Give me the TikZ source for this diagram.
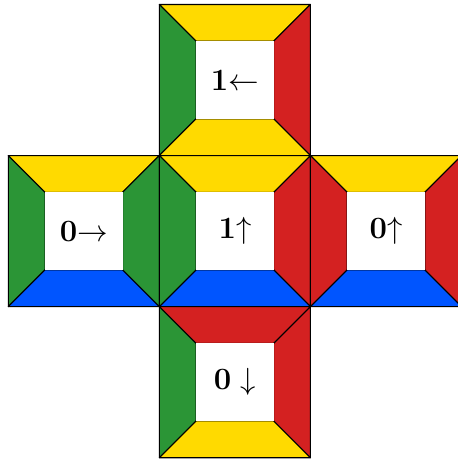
\documentclass[tikz,border=0pt]{standalone}
\usepackage{xcolor}
\usepackage{tikz}
\definecolor{faceyellow}{HTML}{FFDA00}
\definecolor{facegreen}{HTML}{2B9536}
\definecolor{facered}{HTML}{D42121}
\definecolor{faceblue}{HTML}{0055FF}

\begin{document}
\begin{tikzpicture}[
  panel/.style={draw=black, line width=0.6pt, line join=round},
  facelabel/.style={font=\fontsize{17.5}{20}\selectfont, inner sep=0pt}
]
\useasboundingbox (-3.165,-3.085) rectangle (5.928,6.089);
% five faces: shift x / shift y / top / left / right / bottom / name / label
\foreach \x/\y/\t/\l/\r/\b/\n/\lab in {
  0/3/faceyellow/facegreen/facered/faceyellow/fup/{\textbf{1}$\leftarrow$},
  -3/0/faceyellow/facegreen/facegreen/faceblue/fleft/{\textbf{0}$\rightarrow$},
  0/0/faceyellow/facegreen/facered/faceblue/fmid/{\textbf{1}$\uparrow$},
  3/0/faceyellow/facered/facered/faceblue/fright/{\textbf{0}$\uparrow$},
  0/-3/facered/facegreen/facered/faceyellow/fdown/{\textbf{0} $\downarrow$}}{
  \begin{scope}[shift={(\x,\y)}]
    \filldraw[panel, fill=\t] (0,3) -- (3,3) -- (2.27,2.27) -- (0.73,2.27) -- cycle;
    \filldraw[panel, fill=\l] (0,0) -- (0,3) -- (0.73,2.27) -- (0.73,0.73) -- cycle;
    \filldraw[panel, fill=\r] (3,0) -- (3,3) -- (2.27,2.27) -- (2.27,0.73) -- cycle;
    \filldraw[panel, fill=\b] (0,0) -- (3,0) -- (2.27,0.73) -- (0.73,0.73) -- cycle;
    \fill[white] (0.73,0.73) rectangle (2.27,2.27);
    \draw[panel] (0,0) rectangle (3,3);
    \node[facelabel] (\n) at (1.5,1.5) {\lab};
  \end{scope}
}
\end{tikzpicture}
\end{document}
